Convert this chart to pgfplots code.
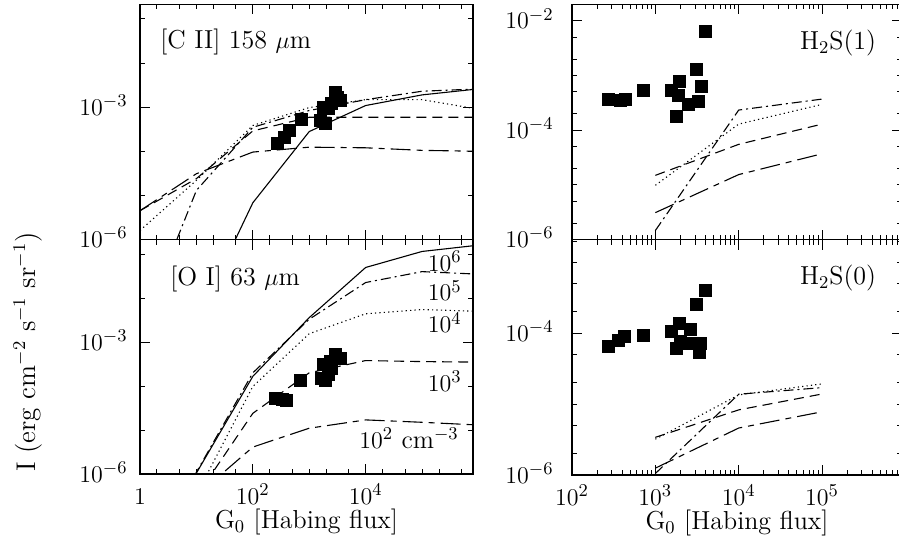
\documentclass[border=0pt]{standalone}
\usepackage{pgfplots}
\pgfplotsset{compat=1.18}
\newcommand\fs{\fontsize{13}{15.6}\selectfont}
\newcommand\ft{\fontsize{12.5}{15}\selectfont}
\tikzset{
 d6/.style={black, line width=0.55pt, solid},
 d5/.style={black, line width=0.55pt, dash pattern=on 5pt off 2pt on 1pt off 2pt},
 d4/.style={black, line width=0.55pt, dash pattern=on 0.6pt off 1.6pt},
 d3/.style={black, line width=0.55pt, dash pattern=on 5pt off 3pt},
 d2/.style={black, line width=0.55pt, dash pattern=on 10pt off 3pt on 3pt off 3pt},
 sq/.style={only marks, mark=square*, mark size=3pt, black},
}
\pgfplotsset{
 panel/.style={
  scale only axis, clip=true,
  axis line style={line width=0.6pt},
  every tick/.style={black, line width=0.5pt},
  tick align=inside, major tick length=5pt, minor tick length=2.5pt,
  xtick pos=both, ytick pos=both,
  tick label style={font=\ft}, label style={font=\fs},
  xticklabel style={anchor=base, inner sep=0pt, yshift=-15pt},
  yticklabel style={anchor=base east, yshift=-4pt},
 },
 leftx/.style={xmin=1, xmax=8e5, xtick={1,100,10000,1000000},
  minor xtick={2,5,10,20,50,200,500,1000,2000,5000,20000,50000,100000,200000,500000}},
 rightx/.style={xmin=100, xmax=9.1e5, xtick={100,1000,10000,100000},
  minor xtick={200,300,400,500,600,700,800,900,2000,3000,4000,5000,6000,7000,8000,9000,20000,30000,40000,50000,60000,70000,80000,90000,200000,300000,400000,500000,600000,700000,800000,900000}},
 xlab/.style={xlabel style={at={(axis description cs:0.5,-0.205)}, anchor=center, inner sep=0pt}},
}
\begin{document}
\begin{tikzpicture}
% ---------------- top left: [C II]
\begin{loglogaxis}[panel, leftx, at={(70pt,151.75pt)}, anchor=south west,
  width=166.5pt, height=117.6pt,
  ymin=1e-6, ymax=0.215, ytick={1e-6,1e-3}, minor ytick={1e-5,1e-4,1e-2,1e-1},
  xticklabel=\empty, yticklabel style={xshift=-2.7pt}]
\addplot[d6] coordinates {(10,1.4e-8) (100,6.8e-6) (1000,2.8e-4) (10000,1.09e-3) (100000,1.9e-3) (1000000,2.6e-3)};
\addplot[d5] coordinates {(1,8e-9) (10,1.3e-5) (100,3.5e-4) (1000,8.4e-4) (10000,1.48e-3) (100000,2.3e-3) (1000000,2.6e-3)};
\addplot[d4] coordinates {(1,1.6e-6) (10,2.2e-5) (100,3.85e-4) (1000,9.8e-4) (10000,1.48e-3) (100000,1.48e-3) (1000000,9e-4)};
\addplot[d3] coordinates {(1,4.5e-6) (10,2.4e-5) (100,2.9e-4) (1000,5.9e-4) (10000,5.9e-4) (100000,5.9e-4) (1000000,5.9e-4)};
\addplot[d2] coordinates {(1,4.5e-6) (10,3.1e-5) (100,9.6e-5) (1000,1.24e-4) (10000,1.2e-4) (100000,1.05e-4) (1000000,1.0e-4)};
\addplot[sq] coordinates {(270,1.5e-4) (370,2.1e-4) (440,2.9e-4) (718,5.3e-4) (1600,5.0e-4) (1900,4.4e-4)
 (1800,1.0e-3) (2150,9.5e-4) (2500,1.25e-3) (2930,2.2e-3) (3600,1.4e-3) (3200,1.7e-3)};
\node[anchor=base west, inner sep=0, font=\fs] at (rel axis cs:0.06,0.813) {[C II] 158 $\mu$m};
\end{loglogaxis}
% ---------------- bottom left: [O I]
\begin{loglogaxis}[panel, leftx, xlab, at={(70pt,34.5pt)}, anchor=south west,
  width=166.5pt, height=117.25pt,
  ymin=1e-6, ymax=0.215, ytick={1e-6,1e-3}, minor ytick={1e-5,1e-4,1e-2,1e-1},
  xticklabels={$1$,$10^2$,$10^4$,$10^6$}, yticklabel style={xshift=-2.7pt},
  xlabel={G$_0$ [Habing flux]},
  ylabel={I (erg cm$^{-2}$ s$^{-1}$ sr$^{-1}$)},
  ylabel style={at={(axis description cs:-0.3363,0.52)}, anchor=center, font=\fontsize{13.5}{16}\selectfont}]
\addplot[d6] coordinates {(1,1e-9) (10,1.05e-6) (100,1.66e-4) (1000,3.6e-3) (10000,0.0497) (100000,0.115) (1000000,0.16)};
\addplot[d5] coordinates {(1,1e-9) (10,1.1e-6) (100,2e-4) (1000,3.3e-3) (10000,0.0226) (100000,0.040) (1000000,0.035)};
\addplot[d4] coordinates {(10,3.4e-7) (100,9.8e-5) (1000,1.55e-3) (10000,4.4e-3) (100000,5.5e-3) (1000000,5.0e-3)};
\addplot[d3] coordinates {(10,3.1e-7) (100,2.4e-5) (1000,2e-4) (10000,3.8e-4) (100000,3.6e-4) (1000000,3.5e-4)};
\addplot[d2] coordinates {(10,3.2e-7) (100,4.1e-6) (1000,1.1e-5) (10000,1.7e-5) (100000,1.5e-5) (1000000,1.3e-5)};
\addplot[sq] coordinates {(251,5.2e-5) (330,5.0e-5) (394,4.7e-5) (699,1.35e-4) (1630,1.53e-4) (1944,1.35e-4)
 (2228,1.8e-4) (1770,3.1e-4) (2388,3.7e-4) (2930,5.2e-4) (3590,4.2e-4) (2500,2.5e-4)};
\node[anchor=base west, inner sep=0, font=\fs] at (rel axis cs:0.09,0.806) {[O I] 63 $\mu$m};
\node[anchor=base west, inner sep=0, font=\fs] at (axis cs:1.25e5,0.0409) {$10^6$};
\node[anchor=base west, inner sep=0, font=\fs] at (axis cs:1.25e5,8.6e-3) {$10^5$};
\node[anchor=base west, inner sep=0, font=\fs] at (axis cs:1.25e5,1.63e-3) {$10^4$};
\node[anchor=base west, inner sep=0, font=\fs] at (axis cs:1.25e5,7.6e-5) {$10^3$};
\node[anchor=base west, inner sep=0, font=\fs] at (axis cs:7600,3.86e-6) {$10^2$ cm$^{-3}$};
\end{loglogaxis}
% ---------------- top right: H2 S(1)
\begin{loglogaxis}[panel, rightx, at={(286pt,151.75pt)}, anchor=south west,
  width=165pt, height=117.6pt,
  ymin=1e-6, ymax=0.02, ytick={1e-6,1e-4,1e-2},
  minor ytick={2e-6,5e-6,1e-5,2e-5,5e-5,2e-4,5e-4,1e-3,2e-3,5e-3},
  xticklabel=\empty, yticklabel style={xshift=-5.7pt}]
\addplot[d5] coordinates {(1000,1.46e-6) (10000,2.33e-4) (100000,3.7e-4)};
\addplot[d4] coordinates {(1000,9.8e-6) (10000,1.29e-4) (100000,2.96e-4)};
\addplot[d3] coordinates {(1000,1.49e-5) (10000,5.5e-5) (100000,1.29e-4)};
\addplot[d2] coordinates {(1000,3.1e-6) (10000,1.54e-5) (100000,3.7e-5)};
\addplot[sq] coordinates {(273,3.7e-4) (377,3.55e-4) (432,3.7e-4) (718,5.3e-4) (1574,5.3e-4) (1942,7.7e-4)
 (1888,4.4e-4) (2489,2.9e-4) (3281,3.4e-4) (3080,1.31e-3) (3606,6.4e-4) (1770,1.75e-4) (3953,6.4e-3)};
\node[anchor=base west, inner sep=0, font=\fs] at (rel axis cs:0.69,0.806) {H$_2$S(1)};
\end{loglogaxis}
% ---------------- bottom right: H2 S(0)
\begin{loglogaxis}[panel, rightx, xlab, at={(286pt,34pt)}, anchor=south west,
  width=165pt, height=117.75pt,
  ymin=1e-6, ymax=2.1e-3, ytick={1e-6,1e-4},
  minor ytick={2e-6,5e-6,1e-5,2e-5,5e-5,2e-4,5e-4,1e-3,2e-3},
  yticklabel style={xshift=-5.7pt},
  xlabel={G$_0$ [Habing flux]}]
\addplot[d5] coordinates {(1000,1.05e-6) (10000,1.38e-5) (100000,1.71e-5)};
\addplot[d4] coordinates {(1000,3.2e-6) (10000,1.35e-5) (100000,1.93e-5)};
\addplot[d3] coordinates {(1000,3.4e-6) (10000,8.3e-6) (100000,1.39e-5)};
\addplot[d2] coordinates {(1000,1.25e-6) (10000,4.6e-6) (100000,7.8e-6)};
\addplot[sq] coordinates {(273,6.6e-5) (360,7.8e-5) (421,9.0e-5) (718,9.3e-5) (1574,1.06e-4) (1942,1.39e-4)
 (2612,1.14e-4) (1807,6.2e-5) (1982,7.6e-5) (2489,7.2e-5) (3350,5.4e-5) (3507,7.2e-5) (3080,2.52e-4) (3953,3.97e-4)};
\node[anchor=base west, inner sep=0, font=\fs] at (rel axis cs:0.69,0.807) {H$_2$S(0)};
\end{loglogaxis}
\pgfresetboundingbox
\path (0,0) rectangle (449.5pt,271.5pt);
\end{tikzpicture}
\end{document}
